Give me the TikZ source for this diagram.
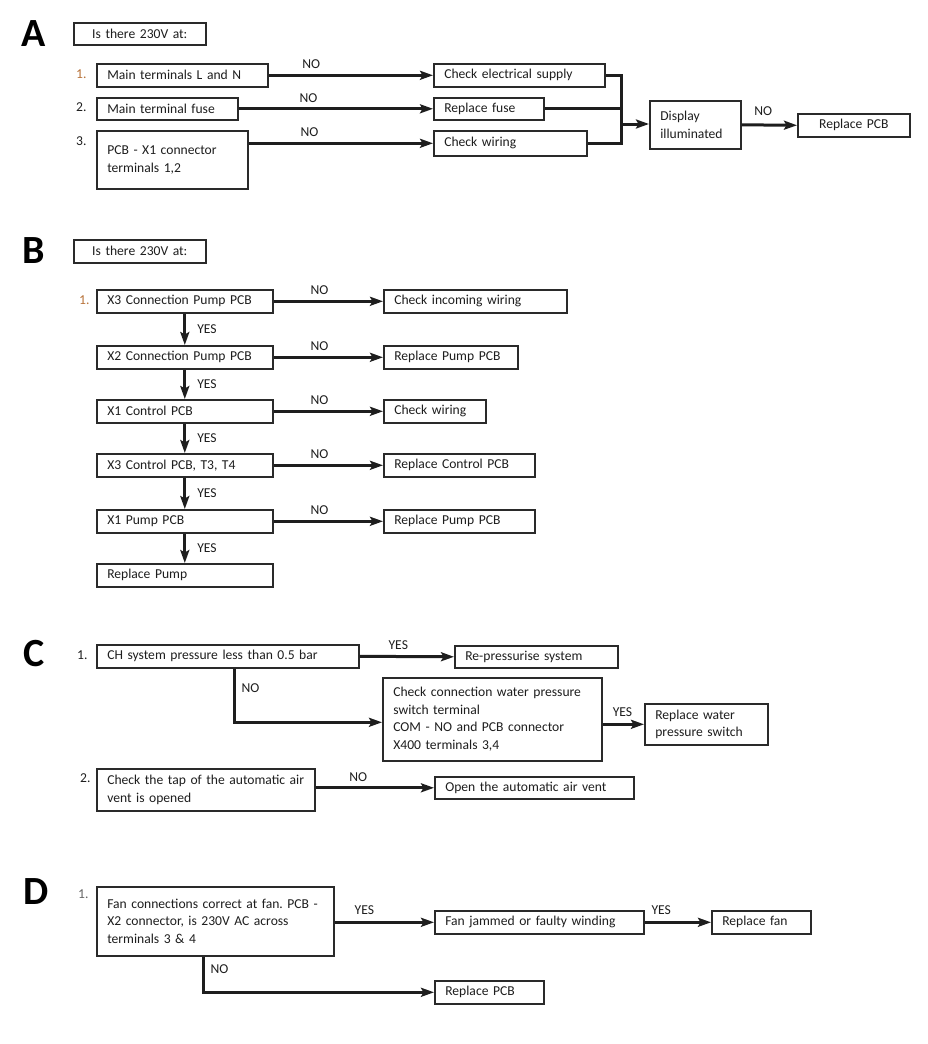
\documentclass[tikz,border=0pt]{standalone}
\usepackage{fontspec}
\setmainfont{Carlito}
\usetikzlibrary{arrows.meta}
\frenchspacing
\definecolor{ink}{HTML}{1E1E1E}
\definecolor{edge}{HTML}{2A2A2A}
\definecolor{numc}{HTML}{B8733A}
\definecolor{numg}{HTML}{666666}
\tikzset{
 box/.style={draw=edge, line width=1.6pt, inner xsep=10.5pt, inner ysep=0pt, anchor=north west, align=left, font=\fontsize{13.6}{17.5}\selectfont\frenchspacing, text=ink},
 cbox/.style={box, align=center},
 arr/.style={draw=ink, line width=3pt, -{Stealth[length=13pt,width=9pt,inset=2.5pt]}},
 link/.style={draw=ink, line width=3pt},
 lab/.style={font=\fontsize{13.6}{17}\selectfont, text=ink, inner sep=0pt},
 num/.style={font=\fontsize{13.6}{17}\selectfont, text=ink, anchor=west, inner sep=0pt},
 sect/.style={font=\fontsize{40}{40}\selectfont\bfseries, text=black, anchor=north west, inner sep=0pt},
}
\newcommand\bx[7][box]{%
 \pgfmathsetmacro\bxw{#5-#3}%
 \pgfmathsetmacro\bxh{#6-#4}%
 \pgfmathsetmacro\bxt{#5-#3-21}%
 \node[#1, minimum width=\bxw pt, minimum height=\bxh pt, text width=\bxt pt] (#2) at (#3,#4) {#7};}
\begin{document}
\begin{tikzpicture}[x=1pt,y=-1pt]
\useasboundingbox[fill=white] (0,0) rectangle (928,1044);
% ---------------- A
\node[sect] (la) at (21,20) {A};
\bx[cbox]{qa}{73}{22}{205}{44}{Is there 230V at:}
\node[num, text=numc] (na1) at (76,74) {1.};
\node[num] (na2) at (76,107) {2.};
\node[num] (na3) at (76,141) {3.};
\bx{a1}{96}{63}{267}{86}{Main terminals L and N}
\bx{a2}{96}{97}{237}{119}{Main terminal fuse}
\bx{a3}{96}{130}{247}{188}{\mbox{PCB - X1 connector}\\\mbox{terminals 1,2}}
\bx{ar1}{433}{63}{604}{86}{Check electrical supply}
\bx{ar2}{433}{97}{543}{119}{Replace fuse}
\bx{ar3}{433}{130}{586}{155}{Check wiring}
\bx{disp}{649}{100}{740}{148}{\mbox{Display}\\\mbox{illuminated}}
\bx[cbox]{arp}{797}{113}{909}{136}{Replace PCB}
\draw[arr] (a1.east) -- node[lab, above=5pt, pos=0.26]{NO} (ar1.west);
\draw[arr] (a2.east) -- node[lab, above=5pt, pos=0.36]{NO} (ar2.west);
\draw[arr] (a3.east |- ar3.west) -- node[lab, above=5pt, pos=0.33]{NO} (ar3.west);
\coordinate (am) at (621,124);
\draw[link] (ar1.east) -| (am |- ar3.east) -- (ar3.east);
\draw[link] (ar2.east) -- (ar2.east -| am);
\draw[arr] (am) -- (am -| disp.west);
\draw[arr] (disp.east) -- node[lab, above=8pt, pos=0.39]{NO} (arp.west);
% ---------------- B
\node[sect] (lb) at (22,237) {B};
\bx[cbox]{qb}{73}{239}{205}{262}{Is there 230V at:}
\node[num, text=numc] (nb1) at (79,300) {1.};
\bx{b1}{96}{289}{272}{312}{X3 Connection Pump PCB}
\bx{b2}{96}{345}{272}{368}{X2 Connection Pump PCB}
\bx{b3}{96}{399}{272}{422}{X1 Control PCB}
\bx{b4}{96}{453}{272}{476}{X3 Control PCB, T3, T4}
\bx{b5}{96}{509}{272}{532}{X1 Pump PCB}
\bx{b6}{96}{563}{272}{586}{Replace Pump}
\bx{br1}{383}{289}{566}{312}{Check incoming wiring}
\bx{br2}{383}{345}{517}{368}{Replace Pump PCB}
\bx{br3}{383}{399}{485}{422}{Check wiring}
\bx{br4}{383}{453}{534}{476}{Replace Control PCB}
\bx{br5}{383}{509}{534}{532}{Replace Pump PCB}
\foreach \i in {1,...,5}{
 \draw[arr] (b\i.east) -- node[lab, above=5pt, pos=0.42]{NO} (br\i.west);
}
\foreach \i/\j in {1/2,2/3,3/4,4/5,5/6}{
 \draw[arr] (b\i.south) -- node[lab, anchor=west, xshift=11pt]{YES} (b\j.north);
}
% ---------------- C
\node[sect] (lc) at (23,640) {C};
\node[num] (nc1) at (77,655) {1.};
\bx{c1}{96}{644}{358}{667}{CH system pressure less than 0.5 bar}
\bx{c2}{454}{645}{617}{667}{Re-pressurise system}
\bx{c3}{382}{677}{601}{760}{\mbox{Check connection water pressure}\\\mbox{switch terminal}\\\mbox{COM - NO and PCB connector}\\\mbox{X400 terminals 3,4}}
\bx{c4}{644}{703}{767}{744}{\mbox{Replace water}\\\mbox{pressure switch}}
\node[num] (nc2) at (80,778) {2.};
\bx{c5}{96}{768}{314}{810}{\mbox{Check the tap of the automatic air}\\\mbox{vent is opened}}
\bx{c6}{434}{776}{633}{798}{Open the automatic air vent}
\draw[arr] (c1.east) -- node[lab, above=5pt, pos=0.41]{YES} (c2.west);
\coordinate (cx) at (234,0);
\draw[arr] (c1.south -| cx) |- node[lab, pos=0.18, anchor=west, xshift=6pt]{NO} ([yshift=-3pt]c3.west);
\draw[arr] (c3.east |- c4.west) -- node[lab, above=6pt, pos=0.48]{YES} (c4.west);
\draw[arr] (c5.east |- c6.west) -- node[lab, above=5pt, pos=0.36]{NO} (c6.west);
% ---------------- D
\node[sect] (ld) at (23,878) {D};
\node[num, text=numg] (nd1) at (78,894) {1.};
\bx{d1}{96}{886}{333}{955}{\mbox{Fan connections correct at fan. PCB -}\\\mbox{X2 connector, is 230V AC across}\\\mbox{terminals 3 \& 4}}
\bx{d2}{434}{910}{643}{933}{Fan jammed or faulty winding}
\bx{d3}{711}{910}{810}{933}{Replace fan}
\bx{d4}{434}{980}{543}{1003}{Replace PCB}
\draw[arr] (d1.east |- d2.west) -- node[lab, above=6pt, pos=0.3]{YES} (d2.west);
\draw[arr] (d2.east) -- node[lab, above=6pt, pos=0.25]{YES} (d3.west);
\coordinate (dx) at (203,0);
\draw[arr] (d1.south -| dx) |- node[lab, pos=0.17, anchor=west, xshift=6pt]{NO} (d4.west);
\end{tikzpicture}
\end{document}
